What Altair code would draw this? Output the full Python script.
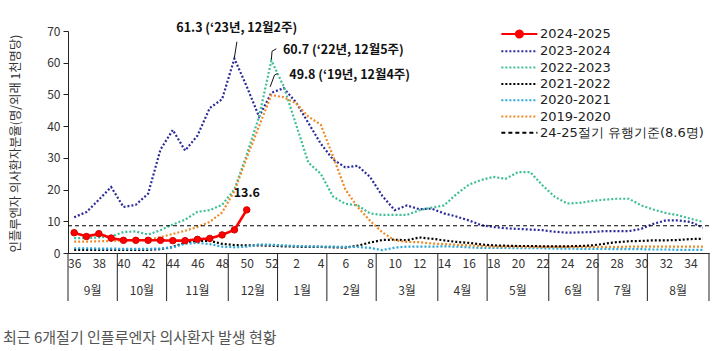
import altair as alt
import pandas as pd

# ---------------- data ----------------
weeks = list(range(36, 53)) + list(range(1, 36))

s_2024_2025 = [6.4, 5.2, 6.1, 4.7, 4.0, 4.0, 4.0, 4.0, 3.9, 3.9, 4.3, 4.6, 5.7, 7.3, 13.6]

s_2023_2024 = [11.3, 12.9, 16.8, 20.8, 14.5, 15.2, 18.7, 32.6, 38.8, 32.3, 37.0, 45.7, 48.5, 61.3,
               52.5, 43.0, 50.5, 52.0, 47.5, 41.0, 34.5, 29.5, 27.0, 27.5, 24.0, 18.0, 13.5,
               15.0, 13.8, 14.0, 12.5, 11.5, 10.3, 8.8, 8.2, 7.8, 7.6, 7.4, 7.2, 6.7, 6.4,
               6.5, 6.6, 6.9, 6.9, 6.9, 7.6, 9.2, 10.3, 10.3, 9.8, 8.0]

s_2022_2023 = [4.7, 4.7, 4.9, 5.2, 6.6, 6.8, 5.8, 7.2, 9.0, 10.5, 13.0, 13.5, 15.2, 20.0,
               31.0, 43.0, 60.7, 52.5, 40.5, 28.5, 25.0, 17.8, 15.5, 15.0, 12.5, 12.0, 12.0,
               12.0, 13.5, 14.3, 15.0, 18.5, 21.5, 23.0, 24.0, 23.4, 25.5, 25.5, 21.3, 17.7,
               15.6, 15.8, 16.4, 16.8, 17.1, 17.1, 15.0, 13.7, 12.6, 11.9, 10.8, 9.8]

s_2021_2022 = [1.0, 1.0, 1.0, 1.0, 1.0, 1.0, 1.0, 1.2, 1.9, 3.3, 3.8, 3.8, 2.9, 2.5,
               2.4, 2.4, 2.3, 2.1, 2.0, 1.9, 1.9, 1.8, 1.7, 2.3, 3.3, 4.1, 4.2,
               4.0, 4.9, 4.5, 4.0, 3.5, 3.2, 2.7, 2.4, 2.3, 2.2, 2.2, 2.1, 2.1,
               2.1, 2.2, 2.4, 2.9, 3.4, 3.7, 3.8, 4.0, 4.0, 4.1, 4.4, 4.5]

s_2020_2021 = [1.5, 1.5, 1.4, 1.4, 1.3, 1.3, 1.3, 1.4, 1.8, 2.9, 3.2, 2.8, 2.0, 1.8,
               2.0, 2.7, 2.6, 2.4, 2.2, 2.1, 2.0, 2.0, 1.9, 1.9, 1.6, 0.9, 1.7,
               2.0, 2.0, 2.0, 2.1, 2.0, 1.8, 1.6, 1.6, 1.6, 1.5, 1.5, 1.5, 1.4,
               1.4, 1.3, 1.3, 1.3, 1.2, 1.2, 1.2, 1.1, 1.1, 1.0, 1.0, 1.0]

s_2019_2020 = [3.6, 3.6, 3.7, 3.8, 3.9, 4.0, 4.2, 5.0, 6.0, 7.0, 8.2, 9.8, 12.8, 19.5,
               30.0, 40.0, 49.8, 49.1, 47.2, 43.0, 40.5, 30.5, 20.0, 14.5, 10.2, 6.5, 4.0,
               3.5, 3.4, 3.0, 2.8, 2.6, 2.4, 2.2, 2.0, 2.0, 2.0, 1.9, 1.9, 1.9,
               1.9, 1.9, 1.9, 1.9, 1.9, 2.0, 2.0, 2.0, 2.0, 2.0, 2.0, 2.0]

threshold_value = 8.6
threshold_label = "24-25절기  유행기준(8.6명)"

seasons = ["2024-2025", "2023-2024", "2022-2023", "2021-2022", "2020-2021", "2019-2020", threshold_label]
season_colors = ["#FF0000", "#2B2B9A", "#3DBE96", "#000000", "#2AA8DA", "#EE8A2A", "#000000"]
season_dash = [[1, 0], [2, 2], [2, 2], [2, 2], [2, 2], [2, 2], [4, 3]]

months = ["9월", "10월", "11월", "12월", "1월", "2월", "3월", "4월", "5월", "6월", "7월", "8월"]
month_weeks = [4, 4, 5, 4, 4, 4, 5, 4, 5, 4, 4, 5]

# annotations
ann_texts = ["61.3 (‘23년, 12월2주)", "60.7 (‘22년, 12월5주)", "49.8 (‘19년, 12월4주)"]
ann_x = [13.19, 16.94, 17.45]
ann_y = [70.9, 64.0, 56.2]
lead_id = [1, 1, 2, 2, 2, 3, 3, 3]
lead_seq = [0, 1, 0, 1, 2, 0, 1, 2]
lead_x = [13.0, 13.2, 16.0, 16.05, 16.4, 15.9, 16.25, 16.5]
lead_y = [61.6, 66.6, 61.0, 63.6, 64.4, 52.4, 56.1, 56.6]
last_label = "13.6"

caption = "최근 6개절기 인플루엔자 의사환자 발생 현황"
y_title = "인플루엔자 의사환자분율(명/외래 1천명당)"

# ---------------- tables ----------------
rows = []
for name, vals in [("2023-2024", s_2023_2024), ("2022-2023", s_2022_2023),
                   ("2021-2022", s_2021_2022), ("2020-2021", s_2020_2021),
                   ("2019-2020", s_2019_2020)]:
    for i, v in enumerate(vals):
        rows.append({"idx": i, "value": v, "season": name})
df_other = pd.DataFrame(rows)
df_red = pd.DataFrame({"idx": list(range(len(s_2024_2025))), "value": s_2024_2025,
                       "season": "2024-2025"})
df_thr = pd.DataFrame({"value": [threshold_value], "season": [threshold_label]})

starts = [sum(month_weeks[:k]) for k in range(len(month_weeks))]
df_sep = pd.DataFrame({"sep": [s - 0.5 for s in starts] + [len(weeks) - 0.5]})
df_month = pd.DataFrame({"label": months,
                         "center": [s + (n - 1) / 2 for s, n in zip(starts, month_weeks)]})
df_ann_c = pd.DataFrame({"text": ann_texts[:1], "x": ann_x[:1], "y": ann_y[:1]})
df_ann_l = pd.DataFrame({"text": ann_texts[1:], "x": ann_x[1:], "y": ann_y[1:]})
df_lead = pd.DataFrame({"id": lead_id, "seq": lead_seq, "x": lead_x, "y": lead_y})
df_last = pd.DataFrame({"x": [len(s_2024_2025) - 1], "y": [s_2024_2025[-1]], "text": [last_label]})

W, H = 641, 222
FONT = "Noto Sans CJK KR"

label_expr = "[" + ",".join("'%d'" % w for w in weeks) + "][datum.value]"
xscale = alt.Scale(domain=[-0.5, len(weeks) - 0.5], nice=False, zero=False)
yscale = alt.Scale(domain=[0, 70], nice=False)

xaxis = alt.Axis(values=list(range(0, len(weeks), 2)), labelExpr=label_expr,
                 grid=False, ticks=False, title=None, labelFontSize=12,
                 labelColor="#333333", labelPadding=5, domainColor="#222222",
                 labelFlush=False, labelOverlap=False)
yaxis = alt.Axis(values=list(range(0, 71, 10)), grid=False, tickSize=5,
                 tickColor="#222222", domainColor="#222222", labelFontSize=12,
                 labelColor="#333333", labelPadding=3, labelOverlap=False,
                 title=y_title, titleAngle=270, titleX=-53, titleY=112,
                 titleAlign="center", titleBaseline="middle", titleFontSize=12.3,
                 titleFontWeight="normal", titleColor="#333333")


def qx(field):
    return alt.X(field, scale=xscale, axis=xaxis)


def qy(field):
    return alt.Y(field, scale=yscale, axis=yaxis)


sym_line = "M-3.95,0L1.2,0"
sym_red = "M-3.95,0L1.2,0M-1.875,0A0.5,0.5,0,1,0,-0.875,0A0.5,0.5,0,1,0,-1.875,0Z"
legend = alt.Legend(orient="none", legendX=453, legendY=-5, title=None,
                    labelFontSize=13, labelColor="#222222", labelFont="DejaVu Sans",
                    labelLimit=300,
                    symbolType=alt.ExprRef("datum.value === '2024-2025' ? '%s' : '%s'" % (sym_red, sym_line)),
                    symbolSize=196, symbolStrokeWidth=2, symbolFillColor="#FF0000",
                    rowPadding=1.3, labelOffset=3)

color_enc = alt.Color("season:N", scale=alt.Scale(domain=seasons, range=season_colors),
                      legend=legend, sort=seasons)
dash_enc = alt.StrokeDash("season:N", scale=alt.Scale(domain=seasons, range=season_dash),
                          legend=legend, sort=seasons)

others = alt.Chart(df_other).mark_line(strokeWidth=2.2, strokeCap="butt").encode(
    x=qx("idx:Q"), y=qy("value:Q"), color=color_enc, strokeDash=dash_enc, order="idx:Q")

thr = alt.Chart(df_thr).mark_rule(strokeWidth=1.2).encode(
    y=qy("value:Q"), color=color_enc, strokeDash=dash_enc)

red_line = alt.Chart(df_red).mark_line(strokeWidth=2.6).encode(
    x=qx("idx:Q"), y=qy("value:Q"), color=color_enc, strokeDash=dash_enc, order="idx:Q")

red_pts = alt.Chart(df_red).mark_circle(size=42, opacity=1, stroke="#D00000", strokeWidth=1).encode(
    x=qx("idx:Q"), y=qy("value:Q"),
    color=alt.Color("season:N", scale=alt.Scale(domain=seasons, range=season_colors), legend=None))

seps = alt.Chart(df_sep).mark_rule(color="#222222", strokeWidth=1).encode(
    x=qx("sep:Q"), y=alt.value(H), y2=alt.value(H + 48))

month_txt = alt.Chart(df_month).mark_text(fontSize=12, color="#333333", baseline="middle").encode(
    x=qx("center:Q"), y=alt.value(H + 38), text="label:N")

leads = alt.Chart(df_lead).mark_line(color="#111111", strokeWidth=1).encode(
    x=qx("x:Q"), y=qy("y:Q"), detail="id:N", order="seq:Q")

ann_c = alt.Chart(df_ann_c).mark_text(fontSize=12.5, fontWeight="bold", color="#111111",
                                      baseline="middle", align="center").encode(
    x=qx("x:Q"), y=qy("y:Q"), text="text:N")
ann_l = alt.Chart(df_ann_l).mark_text(fontSize=12.5, fontWeight="bold", color="#111111",
                                      baseline="middle", align="left").encode(
    x=qx("x:Q"), y=qy("y:Q"), text="text:N")

last_txt = alt.Chart(df_last).mark_text(fontSize=12.5, fontWeight="bold", color="#111111",
                                        baseline="middle", dy=-17).encode(
    x=qx("x:Q"), y=qy("y:Q"), text="text:N")

cap = alt.Chart(pd.DataFrame({"t": [caption]})).mark_text(
    fontSize=15, color="#555555", align="left", baseline="middle").encode(
    x=alt.value(-65), y=alt.value(H + 85), text="t:N")

chart = alt.layer(others, thr, red_line, red_pts, seps, month_txt, leads, ann_c, ann_l,
                  last_txt, cap).properties(
    width=W, height=H,
    autosize=alt.AutoSizeParams(type="none"),
    padding={"left": 68, "top": 31, "right": 10, "bottom": 98},
).configure(font=FONT).configure_view(stroke=None)

chart.save("out.html", embed_options={"renderer": "svg", "actions": False})
